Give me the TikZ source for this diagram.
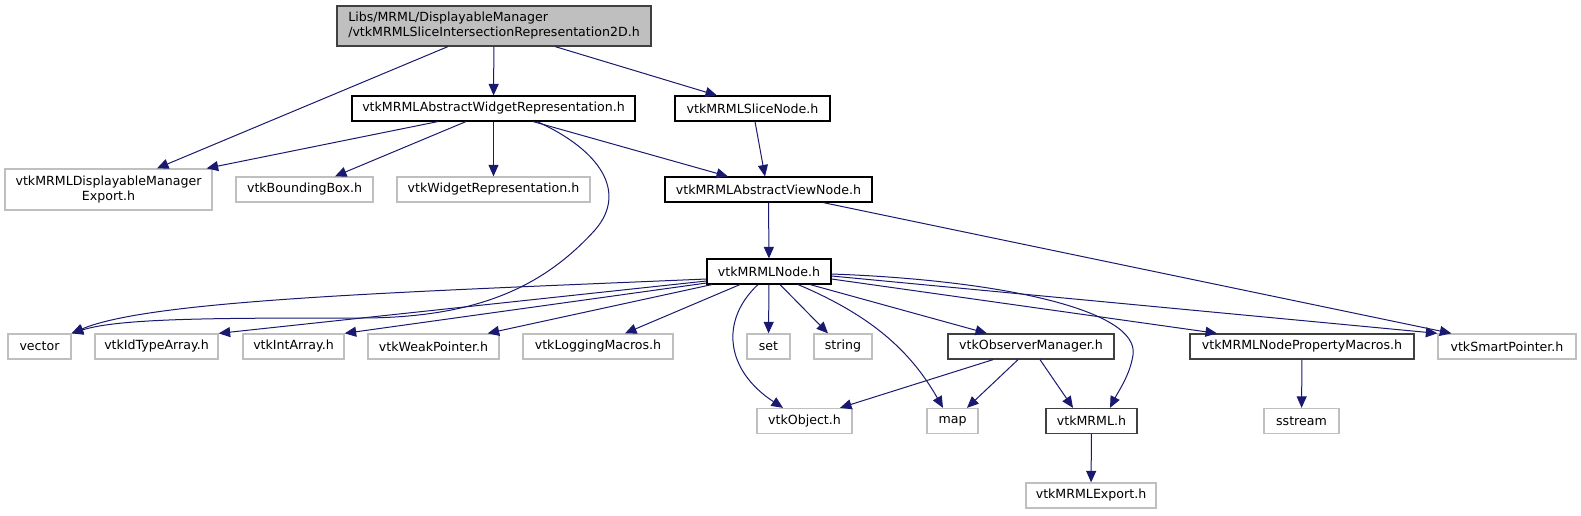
\documentclass[tikz,border=0pt]{standalone}
\usepackage{fontspec}
\setmainfont{DejaVu Sans}
\usepackage{xcolor}
\usepackage{tikz}
\usetikzlibrary{arrows.meta}
\definecolor{edgeblue}{HTML}{191970}
\definecolor{rootfill}{HTML}{BFBFBF}
\definecolor{rootline}{HTML}{404040}
\definecolor{undocline}{HTML}{BFBFBF}
\tikzset{
  hdr/.style     = {rectangle, draw=black, line width=1.1pt, fill=white,
                    inner sep=0pt, minimum height=25pt, align=center,
                    font=\fontsize{12.6pt}{15pt}\selectfont},
  hdrdark/.style = {hdr, draw=rootline, line width=1.3pt},
  hdrext/.style  = {hdr, draw=undocline, line width=1.3pt},
  hdrroot/.style = {hdr, draw=rootline, fill=rootfill, align=left,
                    minimum height=40pt},
  inc/.style     = {-{Triangle[length=11.5pt,width=10pt,fill=edgeblue]},
                    line width=1pt, draw=edgeblue},
}
\begin{document}
\begin{tikzpicture}[x=1pt, y=-1pt]
  \useasboundingbox (0,0) rectangle (1581,515);

  % top: the file itself
  \node[hdrroot, minimum width=314pt] (root) at (494,26)
       {Libs/MRML/DisplayableManager\\/vtkMRMLSliceIntersectionRepresentation2D.h};

  % direct includes
  \node[hdr, minimum width=283pt] (abswr) at (493.5,108.5) {vtkMRMLAbstractWidgetRepresentation.h};
  \node[hdr, minimum width=155pt] (slice) at (752.5,108.5) {vtkMRMLSliceNode.h};

  \node[hdrext, minimum width=207pt, minimum height=41pt] (dmexp) at (108.5,189.5)
       {vtkMRMLDisplayableManager\\Export.h};
  \node[hdrext, minimum width=137pt] (bbox) at (304.5,189.5) {vtkBoundingBox.h};
  \node[hdrext, minimum width=193pt] (wrep) at (493.5,189.5) {vtkWidgetRepresentation.h};
  \node[hdr, minimum width=207pt] (avn) at (768.5,189.5) {vtkMRMLAbstractViewNode.h};

  \node[hdr, minimum width=124pt] (mnode) at (769,271.5) {vtkMRMLNode.h};

  % includes of vtkMRMLNode.h
  \node[hdrext, minimum width=63pt]  (vector)  at (39.5,346.5)  {vector};
  \node[hdrext, minimum width=123pt] (idtype)  at (156.5,346.5) {vtkIdTypeArray.h};
  \node[hdrext, minimum width=101pt] (intarr)  at (293.5,346.5) {vtkIntArray.h};
  \node[hdrext, minimum width=131pt] (weak)    at (433.5,346.5) {vtkWeakPointer.h};
  \node[hdrext, minimum width=150pt] (logging) at (598,346.5)   {vtkLoggingMacros.h};
  \node[hdrext, minimum width=43pt]  (set)     at (768.5,346.5) {set};
  \node[hdrext, minimum width=58pt]  (string)  at (843,346.5)   {string};
  \node[hdrdark, minimum width=166pt] (obsmgr) at (1031,346.5)  {vtkObserverManager.h};
  \node[hdrdark, minimum width=224pt] (npm)    at (1302,346.5)  {vtkMRMLNodePropertyMacros.h};
  \node[hdrext, minimum width=138pt] (smart)   at (1507,346.5)  {vtkSmartPointer.h};

  \node[hdrext, minimum width=95pt]  (vtkobj)  at (804.5,421)   {vtkObject.h};
  \node[hdrext, minimum width=51pt]  (map)     at (952.5,421)   {map};
  \node[hdrdark, minimum width=91pt] (mrml)    at (1091.5,421)  {vtkMRML.h};
  \node[hdrext, minimum width=75pt]  (sstream) at (1301.5,421)  {sstream};

  \node[hdrext, minimum width=130pt] (mrmlexp) at (1091,495.5)  {vtkMRMLExport.h};

  % edges from the root
  \draw[inc] (root) -- (abswr);
  \draw[inc] ([xshift=-46pt]root.south) -- ([xshift=48.5pt]dmexp.north);
  \draw[inc] ([xshift=61pt]root.south) -- ([xshift=-35.5pt]slice.north);

  % edges from vtkMRMLAbstractWidgetRepresentation.h
  \draw[inc] ([xshift=-55.5pt]abswr.south) -- ([xshift=-6pt]dmexp.north east);
  \draw[inc] ([xshift=-27.5pt]abswr.south) -- ([xshift=30.5pt]bbox.north);
  \draw[inc] (abswr) -- (wrep);
  \draw[inc] ([xshift=39.5pt]abswr.south) -- ([xshift=-40.5pt]avn.north);
  \draw[inc] ([xshift=43.5pt]abswr.south) .. controls (600,150) and (628,192) .. (595,230)
             .. controls (545,285) and (480,318) .. (360,318)
             .. controls (220,318) and (120,318) .. (vector.north east);

  \draw[inc] ([xshift=2.5pt]slice.south) -- ([xshift=-3.5pt]avn.north);
  \draw[inc] (avn) -- (mnode);
  \draw[inc] ([xshift=54.5pt]avn.south) -- ([xshift=14pt]smart.north west);

  % edges from vtkMRMLNode.h
  \draw[inc] ([yshift=-7.5pt]mnode.west) .. controls (400,292) and (150,300) .. (vector.north east);
  \draw[inc] ([yshift=-9.5pt]mnode.west) -- (idtype.north east);
  \draw[inc] ([yshift=-11.5pt]mnode.west) -- (intarr.north east);
  \draw[inc] ([xshift=-57pt]mnode.south) -- ([xshift=-12pt]weak.north east);
  \draw[inc] ([xshift=-29pt]mnode.south) -- ([xshift=27pt]logging.north);
  \draw[inc] ([xshift=-11pt]mnode.south) .. controls (720,320) and (725,370) .. ([xshift=-21.5pt]vtkobj.north);
  \draw[inc] (mnode) -- (set);
  \draw[inc] ([xshift=11pt]mnode.south) -- ([xshift=-15pt]string.north);
  \draw[inc] ([xshift=29pt]mnode.south) .. controls (870,315) and (910,350) .. ([xshift=-9.5pt]map.north);
  \draw[inc] ([xshift=41pt]mnode.south) -- ([xshift=-44pt]obsmgr.north);
  \draw[inc] ([yshift=-2.5pt]mnode.east) .. controls (1000,280) and (1140,310) .. (1133,355)
             .. controls (1130,375) and (1118,392) .. ([xshift=18.5pt]mrml.north);
  \draw[inc] ([yshift=-7.5pt]mnode.east) -- ([xshift=-85pt]npm.north);
  \draw[inc] ([yshift=-4.5pt]mnode.east) -- (smart.north west);

  % lower levels
  \draw[inc] ([xshift=-38pt]obsmgr.south) -- ([xshift=35.5pt]vtkobj.north);
  \draw[inc] ([xshift=-13pt]obsmgr.south) -- ([xshift=14.5pt]map.north);
  \draw[inc] ([xshift=9pt]obsmgr.south) -- ([xshift=-18.5pt]mrml.north);
  \draw[inc] (mrml) -- (mrmlexp);
  \draw[inc] (npm) -- (sstream);

\end{tikzpicture}
\end{document}
